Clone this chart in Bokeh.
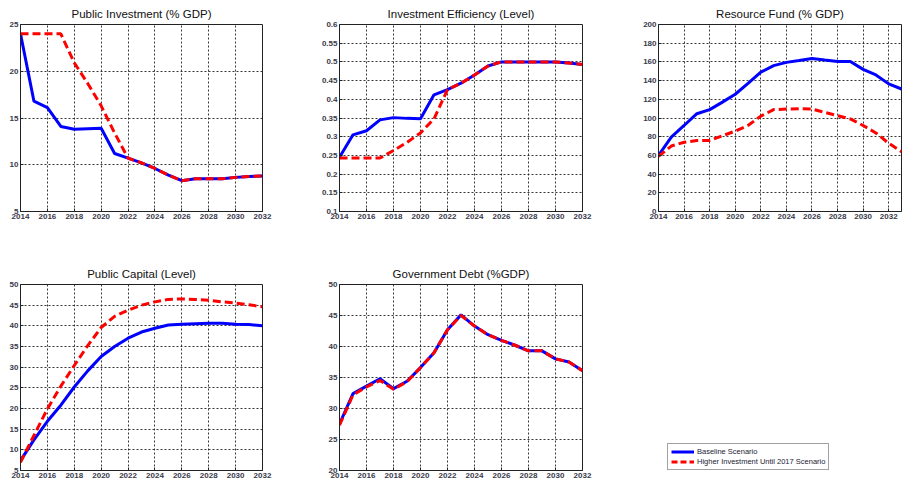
from bokeh.plotting import figure
from bokeh.layouts import column, row
from bokeh.models import FixedTicker, Range1d, Legend, LegendItem
from bokeh.embed import file_html
from bokeh.resources import INLINE

# ---------------- data ----------------
years = list(range(2014, 2033))
years_fund = list(range(2014, 2034))

inv_base = [24.0, 16.8, 16.1, 14.1, 13.8, 13.85, 13.9, 11.2, 10.7, 10.2, 9.6, 8.9, 8.3, 8.5, 8.5, 8.5, 8.65, 8.75, 8.8]
inv_high = [24.0, 24.0, 24.0, 24.0, 20.9, 18.7, 16.3, 13.4, 10.7, 10.2, 9.6, 8.9, 8.3, 8.5, 8.5, 8.5, 8.65, 8.75, 8.8]

eff_base = [0.245, 0.305, 0.316, 0.345, 0.351, 0.349, 0.348, 0.412, 0.426, 0.443, 0.465, 0.489, 0.5, 0.5, 0.5, 0.5, 0.5, 0.497, 0.493]
eff_high = [0.243, 0.243, 0.243, 0.243, 0.263, 0.285, 0.31, 0.348, 0.426, 0.443, 0.465, 0.489, 0.5, 0.5, 0.5, 0.5, 0.5, 0.497, 0.493]

fund_base = [60, 79.6, 92, 104.6, 109, 117, 125.4, 137, 149, 156, 159.5, 161.5, 163.6, 162, 160.5, 160.5, 152, 146, 136.5, 131]
fund_high = [59, 70, 74, 76, 76, 81, 86, 92, 102, 109, 109.5, 110, 109.5, 106, 102.5, 99, 92, 84, 73, 64]

cap_base = [7.4, 12.4, 16.9, 20.8, 25.2, 29.1, 32.6, 35.0, 37.0, 38.5, 39.4, 40.2, 40.4, 40.5, 40.6, 40.6, 40.4, 40.3, 40.0]
cap_high = [7.0, 13.5, 19.9, 25.4, 30.4, 35.2, 39.6, 42.3, 43.8, 45.0, 45.8, 46.4, 46.5, 46.4, 46.2, 45.8, 45.5, 45.1, 44.6]

debt_base = [27.5, 32.4, 33.6, 34.8, 33.2, 34.4, 36.6, 39.0, 42.7, 45.1, 43.3, 41.9, 41.0, 40.2, 39.3, 39.3, 38.0, 37.5, 36.1]
debt_high = [27.3, 32.2, 33.5, 34.5, 33.1, 34.3, 36.6, 39.0, 42.7, 45.0, 43.3, 41.9, 41.0, 40.2, 39.3, 39.3, 38.0, 37.5, 36.1]

titles = ["Public Investment (% GDP)", "Investment Efficiency (Level)", "Resource Fund (% GDP)",
          "Public Capital (Level)", "Government Debt (%GDP)"]
legend_labels = ["Baseline Scenario", "Higher Investment Until 2017 Scenario"]

year_ticks = list(range(2014, 2033, 2))
inv_ticks = [5, 10, 15, 20, 25]
eff_ticks = [0.1, 0.15, 0.2, 0.25, 0.3, 0.35, 0.4, 0.45, 0.5, 0.55, 0.6]
eff_tick_labels = ["0.1", "0.15", "0.2", "0.25", "0.3", "0.35", "0.4", "0.45", "0.5", "0.55", "0.6"]
fund_ticks = list(range(0, 201, 20))
cap_ticks = list(range(5, 51, 5))
debt_ticks = list(range(20, 51, 5))

# ---------------- styling ----------------
BLUE = "#0000FF"
RED = "#FF0000"
FONT = "Liberation Sans"
TICK_COLOR = "#3a3a4a"


def panel(title, x, base, high, xr, yr, yticks, width, height, bl, br, bt, bb, ylabels=None):
    p = figure(width=width, height=height, output_backend="svg", toolbar_location=None,
               x_range=Range1d(*xr), y_range=Range1d(*yr), title=title,
               min_border_left=bl, min_border_right=br, min_border_top=bt, min_border_bottom=bb)
    p.title.align = "center"
    p.title.text_font = FONT
    p.title.text_font_size = "11.5px"
    p.title.text_font_style = "normal"
    p.title.text_color = "#111111"
    p.title.standoff = 9
    p.title.offset = 0
    p.outline_line_color = "#222222"
    p.outline_line_width = 1
    p.background_fill_color = "white"
    p.border_fill_color = "white"
    p.xaxis.ticker = FixedTicker(ticks=year_ticks)
    p.yaxis.ticker = FixedTicker(ticks=yticks)
    if ylabels is not None:
        p.yaxis.major_label_overrides = {t: s for t, s in zip(yticks, ylabels)}
    for ax in (p.xaxis, p.yaxis):
        ax.major_label_text_font = FONT
        ax.major_label_text_font_size = "8px"
        ax.major_label_text_font_style = "bold"
        ax.major_label_text_color = TICK_COLOR
        ax.major_tick_in = 3
        ax.major_tick_out = 0
        ax.minor_tick_line_color = None
        ax.major_tick_line_color = "#222222"
        ax.axis_line_color = "#222222"
        ax.major_label_standoff = 2
    for g in (p.xgrid, p.ygrid):
        g.grid_line_color = "#222222"
        g.grid_line_dash = "2 2"
        g.grid_line_width = 1
        g.grid_line_alpha = 0.9
    p.line(x, base, line_color=BLUE, line_width=3)
    p.line(x, high, line_color=RED, line_width=3, line_dash="8 4")
    return p


H1, H2 = 260, 222

p1 = panel(titles[0], years, inv_base, inv_high, (2014, 2032), (5, 25), inv_ticks, 300, H1, 20, 38, 24, 49)
p2 = panel(titles[1], years, eff_base, eff_high, (2014, 2032), (0.1, 0.6), eff_ticks, 300, H1, 39, 18, 24, 49,
           eff_tick_labels)
p3 = panel(titles[2], years_fund, fund_base, fund_high, (2014, 2033), (0, 200), fund_ticks, 308, H1, 58, 7, 24, 49)
p4 = panel(titles[3], years, cap_base, cap_high, (2014, 2032), (5, 50), cap_ticks, 300, H2, 20, 38, 24, 12)
p5 = panel(titles[4], years, debt_base, debt_high, (2014, 2032), (20, 50), debt_ticks, 300, H2, 39, 18, 24, 12)

# legend panel
pl = figure(width=308, height=H2, output_backend="svg", toolbar_location=None,
            x_range=Range1d(0, 1), y_range=Range1d(0, 1),
            x_axis_location=None, y_axis_location=None,
            min_border_left=0, min_border_right=0, min_border_top=0, min_border_bottom=0)
pl.grid.visible = False
pl.outline_line_color = None
r1 = pl.line([5, 6], [5, 6], line_color=BLUE, line_width=3)
r2 = pl.line([5, 6], [5, 6], line_color=RED, line_width=3, line_dash="6 3")
leg = Legend(items=[LegendItem(label=legend_labels[0], renderers=[r1]),
                    LegendItem(label=legend_labels[1], renderers=[r2])],
             location=(67, 0))
leg.label_text_font = FONT
leg.label_text_font_size = "7.5px"
leg.label_text_color = "#222233"
leg.label_height = 9
leg.glyph_height = 9
leg.glyph_width = 23
leg.label_standoff = 3
leg.spacing = 1
leg.padding = 3
leg.margin = 0
leg.border_line_color = "#444444"
leg.border_line_width = 1
leg.background_fill_color = "white"
pl.add_layout(leg)

layout = column(row(p1, p2, p3), row(p4, p5, pl))

open("out.html", "w").write(file_html(layout, INLINE))
